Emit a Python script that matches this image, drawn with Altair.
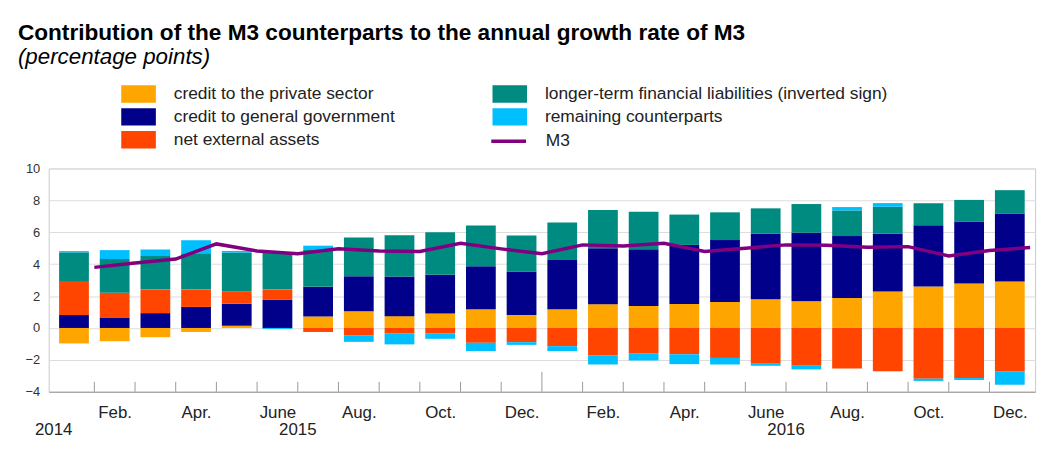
import json
import altair as alt
import pandas as pd

# ---------------- data ----------------
month_names = ["Jan.", "Feb.", "Mar.", "Apr.", "May", "June",
               "July", "Aug.", "Sep.", "Oct.", "Nov.", "Dec."]
months = month_names * 2                      # 24 monthly bars
shown_month_idx = [1, 3, 5, 7, 9, 11, 13, 15, 17, 19, 21, 23]

year_labels = ["2014", "2015", "2016"]
year_pos = [-0.5, 5.5, 17.5]

series_names = [
    "credit to the private sector",
    "credit to general government",
    "net external assets",
    "longer-term financial liabilities (inverted sign)",
    "remaining counterparts",
]
series_colors = ["#FFA500", "#00008B", "#FF4500", "#008B80", "#00BFFF"]

private = [-0.97, -0.83, -0.58, -0.25, 0.14, 0.00, 0.72, 1.05, 0.74, 0.91, 1.18, 0.81,
           1.18, 1.49, 1.38, 1.51, 1.63, 1.80, 1.67, 1.88, 2.29, 2.60, 2.79, 2.91]
government = [0.81, 0.66, 0.93, 1.32, 1.38, 1.76, 1.86, 2.19, 2.48, 2.42, 2.69, 2.73,
              3.08, 3.51, 3.55, 3.70, 3.88, 4.13, 4.30, 3.88, 3.64, 3.84, 3.88, 4.26]
external = [2.13, 1.55, 1.49, 1.10, 0.79, 0.66, -0.25, -0.48, -0.33, -0.33, -0.93, -0.89,
            -1.14, -1.71, -1.61, -1.65, -1.88, -2.25, -2.33, -2.54, -2.71, -3.18, -3.14, -2.71]
ltfl = [1.80, 2.11, 2.09, 2.27, 2.42, 2.31, 2.31, 2.44, 2.60, 2.67, 2.56, 2.25,
        2.36, 2.40, 2.36, 1.90, 1.74, 1.57, 1.80, 1.61, 1.67, 1.38, 1.36, 1.47]
remaining = [0.08, 0.56, 0.41, 0.81, 0.10, -0.06, 0.27, -0.39, -0.70, -0.35, -0.52, -0.17,
             -0.31, -0.58, -0.43, -0.62, -0.41, -0.12, -0.27, 0.21, 0.23, -0.14, -0.12, -0.85]
m3 = [3.80, 4.07, 4.32, 5.27, 4.83, 4.65, 4.96, 4.83, 4.79, 5.31, 4.96, 4.65,
      5.21, 5.14, 5.31, 4.79, 5.00, 5.21, 5.19, 5.06, 5.10, 4.52, 4.86, 5.04]
m3_color = "#800080"

# ---------------- tables ----------------
all_series = [private, government, external, ltfl, remaining]
rows = []
for i in range(len(months)):
    for k, name in enumerate(series_names):
        rows.append({"idx": i, "month": months[i], "series": name,
                     "value": all_series[k][i], "order": k})
bars_df = pd.DataFrame(rows)
line_df = pd.DataFrame({"idx": list(range(len(m3))), "m3": m3, "label": "M3"})
year_df = pd.DataFrame({"pos": year_pos, "label": year_labels})
tick_df = pd.DataFrame({"pos": [i + 0.5 for i in range(len(months) - 1)]})
tick_df["big"] = [1 if p == 11.5 else 0 for p in tick_df["pos"]]

FONT = "Liberation Sans"
W, H = 994, 225

x_scale = alt.Scale(domain=[-0.5, 23.5], nice=False, zero=False)
x_axis = alt.Axis(
    title=None, values=shown_month_idx,
    labelExpr=f"{json.dumps(months)}[datum.value]",
    ticks=False, grid=False, domain=True, domainColor="#999999",
    labelFontSize=17, labelPadding=13, labelColor="#222222", labelFont=FONT,
    labelOverlap=False, labelBound=False, labelFlush=False,
)
y_scale = alt.Scale(domain=[-4, 10], nice=False, zero=False)
y_axis = alt.Axis(
    title=None, values=list(range(-4, 11, 2)), grid=True, gridColor="#dddddd",
    ticks=False, domain=False, labelFontSize=13, labelPadding=9,
    labelColor="#333333", labelFont=FONT, labelOverlap=False,
    labelBound=False, labelFlush=False,
)

bars = alt.Chart(bars_df).mark_bar(size=30).encode(
    x=alt.X("idx:Q", scale=x_scale, axis=x_axis),
    y=alt.Y("value:Q", stack="zero", scale=y_scale, axis=y_axis),
    color=alt.Color(
        "series:N",
        scale=alt.Scale(domain=series_names, range=series_colors),
        legend=alt.Legend(
            title=None, orient="none", legendX=73, legendY=-86.5, columns=2,
            columnPadding=98, rowPadding=0, clipHeight=23,
            symbolType="M-1,-0.5H1V0.5H-1Z",
            symbolSize=1225, symbolStrokeWidth=0, symbolOpacity=1,
            labelFontSize=17.5, labelOffset=18, labelLimit=600,
            labelColor="#222222", labelFont=FONT, padding=0,
        ),
    ),
    order=alt.Order("order:Q", sort="ascending"),
)

line = alt.Chart(line_df).transform_calculate(xpos="datum.idx + 0.5").mark_line(
    strokeWidth=3.5
).encode(
    x=alt.X("xpos:Q", scale=x_scale, axis=x_axis),
    y=alt.Y("m3:Q", scale=y_scale, axis=y_axis),
    stroke=alt.Stroke(
        "label:N",
        scale=alt.Scale(domain=["M3"], range=[m3_color]),
        legend=alt.Legend(
            title=None, orient="none", legendX=444, legendY=-47,
            symbolType="stroke", symbolSize=1225, symbolStrokeWidth=3.5,
            labelFontSize=17.5, labelOffset=18, labelColor="#222222",
            labelFont=FONT, padding=0,
        ),
    ),
)

ticks = alt.Chart(tick_df).transform_calculate(
    top="-4 + (datum.big == 1 ? 1.25 : 0.62)", bottom="-4"
).mark_rule(color="#999999", strokeWidth=1).encode(
    x=alt.X("pos:Q", scale=x_scale, axis=x_axis),
    y=alt.Y("bottom:Q", scale=y_scale, axis=y_axis),
    y2="top:Q",
)

years = alt.Chart(year_df).mark_text(
    fontSize=17, font=FONT, color="#222222", baseline="alphabetic", align="center"
).encode(
    x=alt.X("pos:Q", scale=x_scale, axis=x_axis),
    y=alt.YDatum(-6.7, scale=y_scale, axis=y_axis),
    text="label:N",
)

chart = alt.layer(bars, ticks, line, years).resolve_legend(
    color="independent", stroke="independent"
).properties(
    width=W, height=H,
    autosize=alt.AutoSizeParams(type="none"),
    padding={"left": 41, "top": 160, "right": 16, "bottom": 60},
    title=alt.TitleParams(
        text="Contribution of the M3 counterparts to the annual growth rate of M3",
        subtitle="(percentage points)",
        anchor="start", frame="group", dx=-31,
        font=FONT, fontSize=22.8, fontWeight="bold", color="#000000",
        subtitleFont=FONT, subtitleFontSize=22.5, subtitleFontStyle="italic",
        subtitleColor="#000000", subtitlePadding=2, offset=14,
    ),
).configure_view(stroke="#cccccc", strokeWidth=1)

chart.save("out.html", embed_options={"renderer": "svg", "actions": False})
